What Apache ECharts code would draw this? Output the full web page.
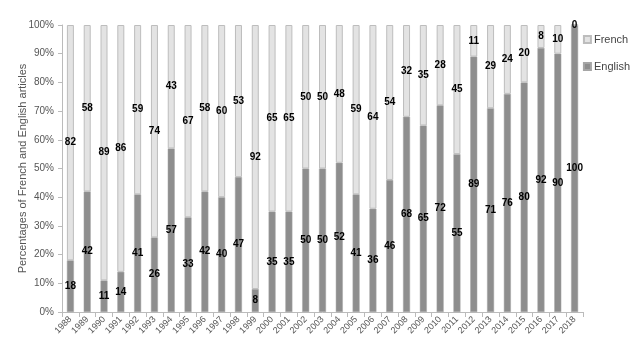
<!DOCTYPE html>
<html>
<head>
<meta charset="utf-8">
<script src="https://cdn.jsdelivr.net/npm/echarts@6/dist/echarts.min.js"></script>
<style>
html,body{margin:0;padding:0;background:#fff;}
#chart{width:640px;height:354px;}
</style>
</head>
<body>
<div id="chart"></div>
<script>
// years on the x axis
var years = ['1988','1989','1990','1991','1992','1993','1994','1995','1996','1997','1998','1999','2000','2001','2002','2003','2004','2005','2006','2007','2008','2009','2010','2011','2012','2013','2014','2015','2016','2017','2018'];
// percentage of English articles
var english = [18,42,11,14,41,26,57,33,42,40,47,8,35,35,50,50,52,41,36,46,68,65,72,55,89,71,76,80,92,90,100];
// percentage of French articles
var french = [82,58,89,86,59,74,43,67,58,60,53,92,65,65,50,50,48,59,64,54,32,35,28,45,11,29,24,20,8,10,0];

var chart = echarts.init(document.getElementById('chart'));
var lbl = {
  show: true,
  position: 'inside',
  color: '#000',
  fontWeight: 'bold',
  fontSize: 10,
  fontFamily: 'Liberation Sans'
};
chart.setOption({
  animation: false,
  textStyle: {fontFamily: 'Liberation Sans'},
  grid: {left: 62, right: 57, top: 25, bottom: 42},
  legend: {
    orient: 'vertical',
    right: 5,
    top: 29,
    itemGap: 16,
    itemWidth: 7,
    itemHeight: 7,
    icon: 'rect',
    textStyle: {color: '#444', fontSize: 11, padding: [0, 0, 0, -2]},
    data: ['French', 'English']
  },
  xAxis: {
    type: 'category',
    data: years,
    axisLine: {lineStyle: {color: '#bbb'}},
    axisTick: {show: true, lineStyle: {color: '#bbb'}},
    axisLabel: {rotate: 45, color: '#555', fontSize: 9, margin: 6, interval: 0}
  },
  yAxis: {
    type: 'value',
    min: 0,
    max: 100,
    interval: 10,
    name: 'Percentages of French and English articles',
    nameLocation: 'middle',
    nameGap: 34,
    nameMoveOverlap: false,
    nameTextStyle: {color: '#555', fontSize: 11},
    axisLine: {show: true, lineStyle: {color: '#bbb'}},
    axisTick: {show: true, length: 4, lineStyle: {color: '#bbb'}},
    axisLabel: {formatter: '{value}%', color: '#555', fontSize: 10},
    splitLine: {show: false}
  },
  series: [
    {
      name: 'English',
      type: 'bar',
      stack: 'a',
      barWidth: 7,
      data: english,
      itemStyle: {color: '#8e8e8e', borderColor: '#a6a6a6', borderWidth: 0.5},
      label: lbl
    },
    {
      name: 'French',
      type: 'bar',
      stack: 'a',
      barWidth: 7,
      data: french,
      itemStyle: {color: '#e3e3e3', borderColor: '#bdbdbd', borderWidth: 1},
      label: lbl
    }
  ]
});
</script>
</body>
</html>
